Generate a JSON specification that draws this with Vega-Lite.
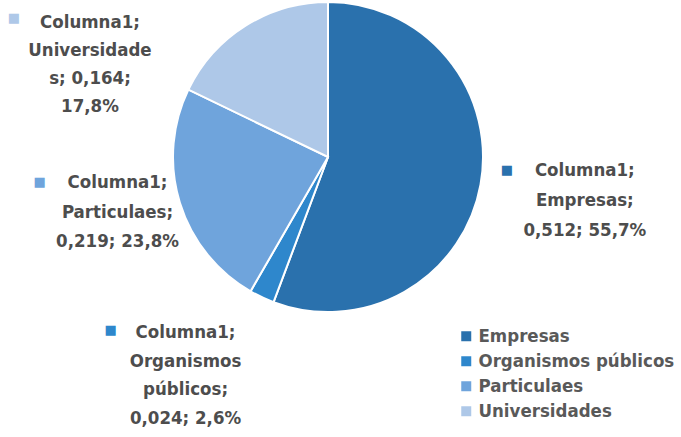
{
  "$schema": "https://vega.github.io/schema/vega-lite/v6.json",
  "width": 656,
  "height": 314,
  "autosize": "none",
  "padding": {"left": 0, "top": 0, "right": 25, "bottom": 123},
  "background": "white",
  "config": {"view": {"stroke": null}, "font": "DejaVu Sans Condensed, Roboto, sans-serif"},
  "data": {"values": [
    {"cat": "Empresas", "value": 0.512, "ord": 1, "label": "Columna1;\nEmpresas;\n0,512; 55,7%"},
    {"cat": "Organismos públicos", "value": 0.024, "ord": 2, "label": "Columna1;\nOrganismos\npúblicos;\n0,024; 2,6%"},
    {"cat": "Particulaes", "value": 0.219, "ord": 3, "label": "Columna1;\nParticulaes;\n0,219; 23,8%"},
    {"cat": "Universidades", "value": 0.164, "ord": 4, "label": "Columna1;\nUniversidade\ns; 0,164;\n17,8%"}
  ]},
  "encoding": {
    "theta": {"field": "value", "type": "quantitative", "stack": true},
    "order": {"field": "ord", "type": "quantitative"}
  },
  "layer": [
    {
      "mark": {"type": "arc", "radius": 155, "stroke": "white", "strokeWidth": 2},
      "encoding": {
        "color": {
          "field": "cat", "type": "nominal",
          "scale": {"domain": ["Empresas", "Organismos públicos", "Particulaes", "Universidades"], "range": ["#2a71ad", "#2e87cc", "#6fa4dc", "#aec8e8"]},
          "legend": {
            "title": null, "orient": "none", "legendX": 457, "legendY": 327,
            "symbolType": "square", "symbolSize": 100, "symbolStrokeWidth": 0,
            "labelFont": "DejaVu Sans Condensed, Roboto, sans-serif", "labelFontSize": 18.5, "labelFontWeight": "bold",
            "labelColor": "#595959", "labelOffset": 3, "rowPadding": 6, "labelLimit": 300
          }
        }
      }
    },
    {
      "mark": {"type": "text", "radius": 260, "dx": 1, "dy": -33, "fontSize": 18.5, "fontWeight": "bold", "color": "#4d4d4d", "lineBreak": "\n", "lineHeight": 30, "align": "center", "baseline": "middle"},
      "encoding": {"text": {"condition": {"test": "datum.cat === 'Empresas'", "field": "label"}, "value": ""}}
    },
    {
      "mark": {"type": "text", "radius": 240, "dx": -40, "dy": -42, "fontSize": 18.5, "fontWeight": "bold", "color": "#4d4d4d", "lineBreak": "\n", "lineHeight": 28.5, "align": "center", "baseline": "middle"},
      "encoding": {"text": {"condition": {"test": "datum.cat === 'Organismos públicos'", "field": "label"}, "value": ""}}
    },
    {
      "mark": {"type": "text", "radius": 215, "dx": -5, "dy": -38, "fontSize": 18.5, "fontWeight": "bold", "color": "#4d4d4d", "lineBreak": "\n", "lineHeight": 29.5, "align": "center", "baseline": "middle"},
      "encoding": {"text": {"condition": {"test": "datum.cat === 'Particulaes'", "field": "label"}, "value": ""}}
    },
    {
      "mark": {"type": "text", "radius": 190, "dx": -137, "dy": 26, "fontSize": 18.5, "fontWeight": "bold", "color": "#4d4d4d", "lineBreak": "\n", "lineHeight": 28, "align": "center", "baseline": "middle"},
      "encoding": {"text": {"condition": {"test": "datum.cat === 'Universidades'", "field": "label"}, "value": ""}}
    },
    {
      "mark": {"type": "text", "radius": 260, "dx": -77, "dy": -33, "fontSize": 13, "font": "DejaVu Sans", "align": "center", "baseline": "middle"},
      "encoding": {
        "text": {"condition": {"test": "datum.cat === 'Empresas'", "value": "■"}, "value": ""},
        "color": {"field": "cat", "type": "nominal", "legend": null}
      }
    },
    {
      "mark": {"type": "text", "radius": 240, "dx": -115, "dy": -44, "fontSize": 13, "font": "DejaVu Sans", "align": "center", "baseline": "middle"},
      "encoding": {
        "text": {"condition": {"test": "datum.cat === 'Organismos públicos'", "value": "■"}, "value": ""},
        "color": {"field": "cat", "type": "nominal", "legend": null}
      }
    },
    {
      "mark": {"type": "text", "radius": 215, "dx": -83, "dy": -38, "fontSize": 13, "font": "DejaVu Sans", "align": "center", "baseline": "middle"},
      "encoding": {
        "text": {"condition": {"test": "datum.cat === 'Particulaes'", "value": "■"}, "value": ""},
        "color": {"field": "cat", "type": "nominal", "legend": null}
      }
    },
    {
      "mark": {"type": "text", "radius": 190, "dx": -213, "dy": 22, "fontSize": 13, "font": "DejaVu Sans", "align": "center", "baseline": "middle"},
      "encoding": {
        "text": {"condition": {"test": "datum.cat === 'Universidades'", "value": "■"}, "value": ""},
        "color": {"field": "cat", "type": "nominal", "legend": null}
      }
    }
  ]
}
